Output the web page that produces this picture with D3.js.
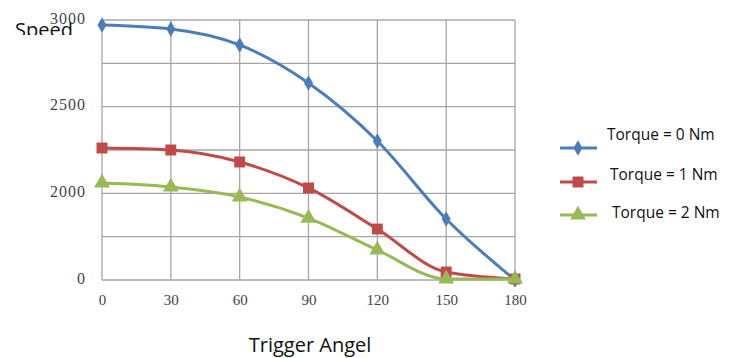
<!DOCTYPE html>
<html>
<head>
<meta charset="utf-8">
<script src="https://d3js.org/d3.v7.min.js"></script>
<style>
  body { margin: 0; background: #fff; }
</style>
</head>
<body>
<script>

// ================================ data
var angles = [0, 30, 60, 90, 120, 150, 180];
var torque0 = [2942, 2896, 2712, 2273, 1604, 704, 0];
var torque1 = [1523, 1500, 1362, 1062, 588, 92, 12];
var torque2 = [1119, 1073, 958, 715, 346, 12, 12];
var seriesNames = ["Torque = 0 Nm", "Torque = 1 Nm", "Torque = 2 Nm"];
var yTickValues = [0, 500, 1000, 1500, 2000, 2500, 3000];
var yTickLabels = ["0", "", "2000", "", "2500", "", "3000"];

// ================================ layout
var svgWidth = 732;
var svgHeight = 358;

var chartMargin = { top: 20, left: 102, right: 217, bottom: 78 };
var chartWidth = svgWidth - chartMargin.left - chartMargin.right;
var chartHeight = svgHeight - chartMargin.top - chartMargin.bottom;

var colors = ["#4a7ebb", "#be4b48", "#98b954"];
var symbols = [d3.symbolDiamond, d3.symbolSquare, d3.symbolTriangle];
var symbolSizes = [70, 120, 110];

var svg = d3.select("body")
  .append("svg")
  .attr("width", svgWidth)
  .attr("height", svgHeight);

var chartGroup = svg.append("g")
  .attr("transform", `translate(${chartMargin.left}, ${chartMargin.top})`);

var xScale = d3.scaleLinear()
  .domain([0, 180])
  .range([0, chartWidth]);

var yScale = d3.scaleLinear()
  .domain([0, 3000])
  .range([chartHeight, 0]);

// grid lines
chartGroup.append("g")
  .selectAll("line")
  .data(yTickValues)
  .enter()
  .append("line")
  .attr("x1", 0)
  .attr("x2", chartWidth)
  .attr("y1", d => yScale(d))
  .attr("y2", d => yScale(d))
  .attr("stroke", "#a6a6a6")
  .attr("stroke-width", 1.3);

chartGroup.append("g")
  .selectAll("line")
  .data(angles)
  .enter()
  .append("line")
  .attr("x1", d => xScale(d))
  .attr("x2", d => xScale(d))
  .attr("y1", 0)
  .attr("y2", chartHeight)
  .attr("stroke", "#a6a6a6")
  .attr("stroke-width", 1.3);

// axes (labels only)
var leftAxis = d3.axisLeft(yScale)
  .tickValues(yTickValues)
  .tickSize(0)
  .tickPadding(16)
  .tickFormat((d, i) => yTickLabels[i]);

var bottomAxis = d3.axisBottom(xScale)
  .tickValues(angles)
  .tickSize(0)
  .tickPadding(14);

var yAxisG = chartGroup.append("g").call(leftAxis);
var xAxisG = chartGroup.append("g")
  .attr("transform", `translate(0, ${chartHeight})`)
  .call(bottomAxis);

[yAxisG, xAxisG].forEach(function (g) {
  g.select(".domain").remove();
  g.selectAll("text")
    .attr("font-family", "Liberation Serif, serif")
    .attr("fill", "#444");
});
yAxisG.selectAll("text")
  .attr("font-size", 16)
  .attr("letter-spacing", 1)
  .attr("dy", "0.2em");
xAxisG.selectAll("text")
  .attr("font-size", 15);

// series
var allSeries = [torque0, torque1, torque2];

var line = d3.line()
  .x((d, i) => xScale(angles[i]))
  .y(d => yScale(d))
  .curve(d3.curveMonotoneX);

allSeries.forEach(function (values, s) {
  chartGroup.append("path")
    .datum(values)
    .attr("fill", "none")
    .attr("stroke", colors[s])
    .attr("stroke-width", 3)
    .attr("d", line);

  chartGroup.selectAll(".marker" + s)
    .data(values)
    .enter()
    .append("path")
    .attr("class", "marker" + s)
    .attr("transform", (d, i) => `translate(${xScale(angles[i])}, ${yScale(d)})`)
    .attr("d", d3.symbol().type(symbols[s]).size(symbolSizes[s]))
    .attr("fill", colors[s]);
});

// legend
var legendY = [148, 182, 215];
var legendTextX = [607, 610, 612];
var legendTextY = [135, 175, 213];

seriesNames.forEach(function (name, s) {
  var lg = svg.append("g");
  lg.append("line")
    .attr("x1", 560)
    .attr("x2", 597)
    .attr("y1", legendY[s])
    .attr("y2", legendY[s])
    .attr("stroke", colors[s])
    .attr("stroke-width", 3);
  lg.append("path")
    .attr("transform", `translate(578, ${legendY[s]})`)
    .attr("d", d3.symbol().type(symbols[s]).size(symbolSizes[s]))
    .attr("fill", colors[s]);
  lg.append("text")
    .attr("x", legendTextX[s])
    .attr("y", legendTextY[s])
    .attr("dy", "0.35em")
    .attr("font-family", "Open Sans, sans-serif")
    .attr("font-size", 15.5)
    .attr("fill", "#111")
    .text(name);
});

// titles
svg.append("clipPath")
  .attr("id", "speedClip")
  .append("rect")
  .attr("x", 0)
  .attr("y", 0)
  .attr("width", 100)
  .attr("height", 35);

svg.append("text")
  .attr("clip-path", "url(#speedClip)")
  .attr("x", 15)
  .attr("y", 37)
  .attr("font-family", "Open Sans, sans-serif")
  .attr("font-size", 20)
  .attr("fill", "#111")
  .text("Speed");

svg.append("text")
  .attr("x", 310)
  .attr("y", 352)
  .attr("text-anchor", "middle")
  .attr("font-family", "Open Sans, sans-serif")
  .attr("font-size", 20)
  .attr("fill", "#111")
  .text("Trigger Angel");

</script>
</body>
</html>
